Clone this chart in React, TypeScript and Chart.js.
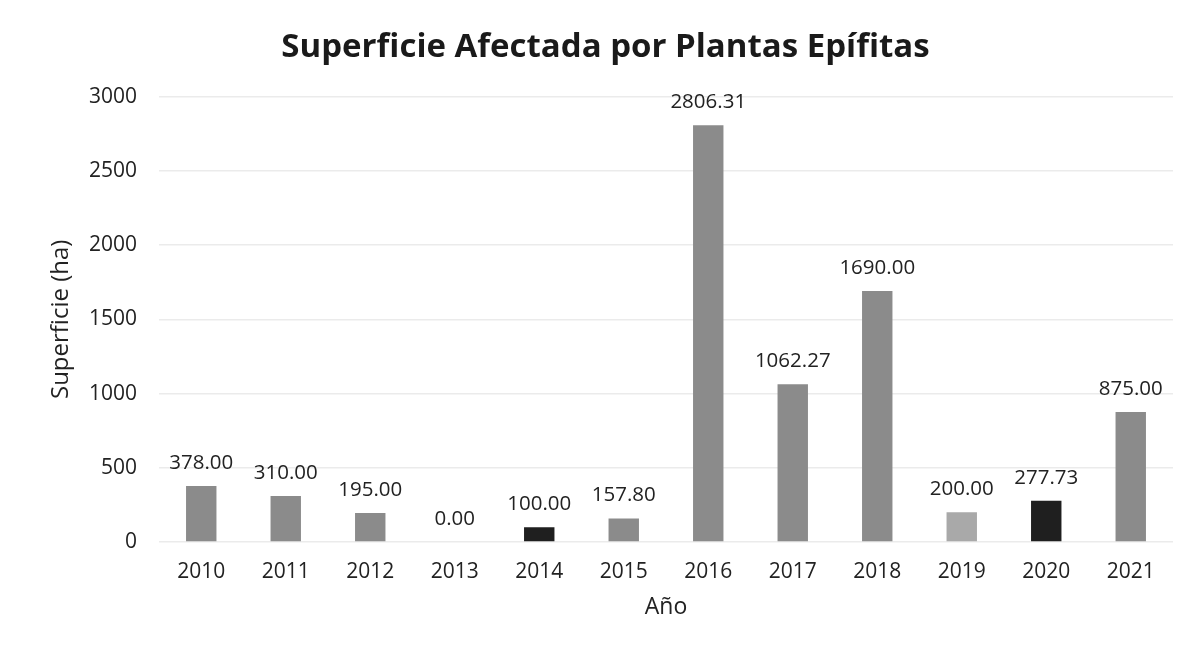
import React, { useEffect, useRef } from "react";
import { Chart, registerables } from "chart.js";

Chart.register(...registerables);

const years = ["2010", "2011", "2012", "2013", "2014", "2015", "2016", "2017", "2018", "2019", "2020", "2021"];
const superficie = [378.0, 310.0, 195.0, 0.0, 100.0, 157.8, 2806.31, 1062.27, 1690.0, 200.0, 277.73, 875.0];
const barColors = ["#8b8b8b", "#8b8b8b", "#8b8b8b", "#8b8b8b", "#1f1f1f", "#8b8b8b", "#8b8b8b", "#8b8b8b", "#8b8b8b", "#a9a9a9", "#1f1f1f", "#8b8b8b"];
const titleText = "Superficie Afectada por Plantas Epífitas";
const yTitle = "Superficie (ha)";
const xTitle = "Año";

const FONT = "'Open Sans', 'DejaVu Sans', sans-serif";

const valueLabels = {
  id: "valueLabels",
  afterDatasetsDraw(chart: any) {
    const ctx = chart.ctx;
    const meta = chart.getDatasetMeta(0);
    ctx.save();
    ctx.font = `20.5px ${FONT}`;
    ctx.fillStyle = "#222222";
    ctx.textAlign = "center";
    ctx.textBaseline = "middle";
    meta.data.forEach((bar: any, i: number) => {
      const v = chart.data.datasets[0].data[i] as number;
      ctx.fillText(v.toFixed(2), bar.x, bar.y - 23);
    });
    ctx.restore();
  },
};

export default function App() {
  const ref = useRef<HTMLCanvasElement | null>(null);
  useEffect(() => {
    if (!ref.current) return;
    const chart = new Chart(ref.current, {
      type: "bar",
      data: {
        labels: years,
        datasets: [
          {
            data: superficie,
            backgroundColor: barColors,
            borderWidth: 0,
            barPercentage: 0.36,
            categoryPercentage: 1,
          },
        ],
      },
      plugins: [valueLabels],
      options: {
        animation: false,
        responsive: false,
        maintainAspectRatio: false,
        layout: { padding: { left: 38, right: 18, top: 0, bottom: 0 } },
        plugins: {
          legend: { display: false },
          tooltip: { enabled: false },
          title: {
            display: true,
            text: titleText,
            color: "#1a1a1a",
            font: { family: FONT, size: 33, weight: "bold" },
            padding: { top: 28, bottom: 29 },
          },
        },
        scales: {
          x: {
            grid: { display: false, drawTicks: false },
            border: { display: false },
            ticks: { color: "#222", font: { family: FONT, size: 21 }, padding: 17 },
            title: {
              display: true,
              text: xTitle,
              color: "#222",
              font: { family: FONT, size: 23 },
              padding: { top: 0, bottom: 28 },
            },
            afterFit(scale: any) {
              scale.height = 107;
            },
          },
          y: {
            min: 0,
            max: 3000,
            ticks: {
              stepSize: 500,
              color: "#222",
              font: { family: FONT, size: 21 },
              padding: 22,
              callback: (v: any) => String(v),
            },
            grid: { color: "#ebebeb", lineWidth: 1.5, drawTicks: false },
            border: { display: false },
            title: {
              display: true,
              text: yTitle,
              color: "#222",
              font: { family: FONT, size: 24 },
              padding: { top: 9, bottom: 0 },
            },
            afterFit(scale: any) {
              scale.width = 121;
            },
          },
        },
      },
    });
    return () => chart.destroy();
  }, []);
  return (
    <div style={{ position: "fixed", left: 0, top: 0, width: 1191, height: 649, background: "#fff" }}>
      <canvas ref={ref} width={1191} height={649} style={{ width: 1191, height: 649 }} />
    </div>
  );
}
